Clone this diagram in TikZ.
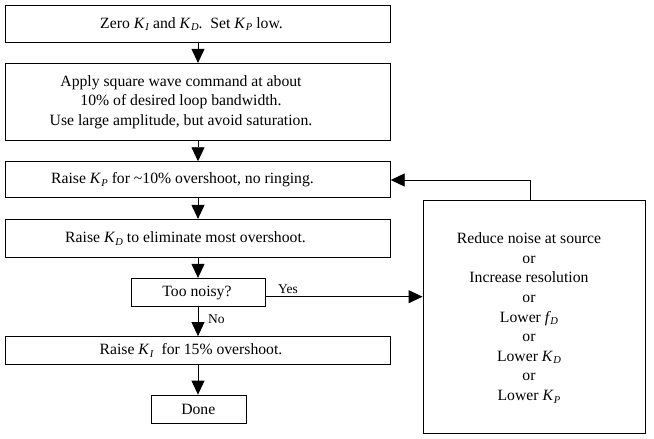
\documentclass[tikz,border=0pt]{standalone}
\usepackage{fontspec}
\setmainfont{Liberation Serif}
\usetikzlibrary{arrows.meta}
\newcommand\Kk[1]{\textit{K}\kern0.02em\raisebox{-0.35ex}{\fontsize{10.5}{11}\selectfont\textit{#1}}}
\newcommand\ff[1]{\textit{f}\kern-0.04em\raisebox{-0.35ex}{\fontsize{10.5}{11}\selectfont\textit{#1}}}
\tikzset{
  box/.style={draw, line width=0.9pt, inner sep=0pt, minimum width=384.5pt},
  txt/.style={inner sep=0pt, align=center, font=\fontsize{15.7}{19.6}\selectfont},
  flow/.style={line width=0.9pt, -{Triangle[length=14pt,width=13pt]}},
  lbl/.style={font=\fontsize{13.5}{15}\selectfont, inner sep=0pt}
}
\begin{document}
\begin{tikzpicture}[x=1pt,y=-1pt]
\useasboundingbox (0,0) rectangle (654,439);
\node[box, minimum height=37pt] (b1) at (198,23.5) {};
\node[txt] (b1t) at (191.5,24) {Zero \Kk{I} and \Kk{D}.\ \ Set \Kk{P} low.};
\node[box, minimum height=76.7pt] (b2) at (198,101.7) {};
\node[txt] (b2t) at (181,102) {Apply square wave command at about\\10\% of desired loop bandwidth.\\Use large amplitude, but avoid saturation.};
\node[box, minimum height=36pt] (b3) at (198,179.7) {};
\node[txt] (b3t) at (182.5,180) {Raise \Kk{P} for \textasciitilde10\% overshoot, no ringing.};
\node[box, minimum height=37.7pt] (b4) at (198,238.2) {};
\node[txt] (b4t) at (185.5,238.5) {Raise \Kk{D} to eliminate most overshoot.};
\node[box, minimum width=134pt, minimum height=27.7pt] (noisy) at (198.7,292.2) {};
\node[txt] (noisyt) at (197,292.5) {Too noisy?};
\node[box, minimum height=27.5pt] (b5) at (198,350.3) {};
\node[txt] (b5t) at (191,350.5) {Raise \Kk{I}\ \ for 15\% overshoot.};
\node[box, minimum width=95pt, minimum height=28.3pt] (done) at (199.2,409.2) {};
\node[txt] (donet) at (198.3,409.5) {Done};
\node[box, minimum width=222pt, minimum height=232.3pt] (fix) at (534,316.9) {};
\node[txt] (fixt) at (529,318) {Reduce noise at source\\or\\Increase resolution\\or\\Lower \ff{D}\\or\\Lower \Kk{D}\\or\\Lower \Kk{P}};
\draw[flow] (b1.south -| 198,0) -- (b2.north -| 198,0);
\draw[flow] (b2.south -| 198,0) -- (b3.north -| 198,0);
\draw[flow] (b3.south -| 198,0) -- (b4.north -| 198,0);
\draw[flow] (b4.south -| 198,0) -- (noisy.north -| 198,0);
\draw[flow] (noisy.south -| 198,0) -- (b5.north -| 198,0);
\draw[flow] (b5.south -| 198,0) -- (done.north -| 198,0);
\coordinate (yy) at (0,296.7);
\draw[flow] (noisy.east |- yy) -- (fix.west |- yy);
\coordinate (fb) at (530,180);
\draw[flow] (fix.north -| fb) -- (fb) -- (b3.east |- fb);
\node[lbl, anchor=base west] (yes) at (278,293) {Yes};
\node[lbl, anchor=base west] (no) at (208,323) {No};
\end{tikzpicture}
\end{document}
